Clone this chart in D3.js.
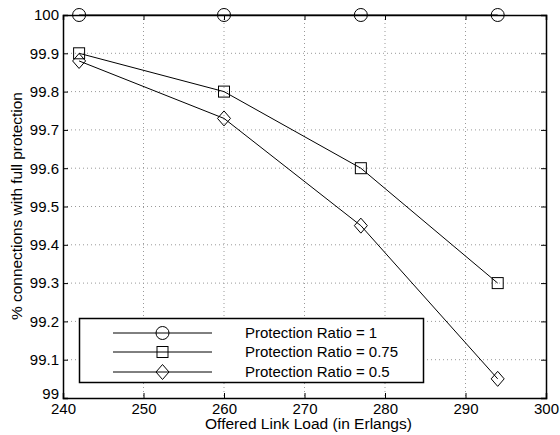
<!DOCTYPE html>
<html><head><meta charset="utf-8">
<script src="https://cdn.jsdelivr.net/npm/d3@7"></script>
<style>body{margin:0;background:#fff}svg{display:block}text{font-family:"Liberation Sans",Arial,Helvetica,sans-serif;fill:#000}</style>
</head><body>
<svg id="c" width="560" height="435"></svg>
<script>
const xLoad = [242, 260, 277, 294];
const ratio1 = [100, 100, 100, 100];
const ratio075 = [99.9, 99.8, 99.6, 99.3];
const ratio05 = [99.88, 99.73, 99.45, 99.05];
const seriesNames = ["Protection Ratio = 1", "Protection Ratio = 0.75", "Protection Ratio = 0.5"];
const xTicks = [240, 250, 260, 270, 280, 290, 300];
const yTicks = [99, 99.1, 99.2, 99.3, 99.4, 99.5, 99.6, 99.7, 99.8, 99.9, 100];

const svg = d3.select("#c");
const L = 63, R = 546, T = 15, B = 398;
const x = d3.scaleLinear().domain([240, 300]).range([L, R]);
const y = d3.scaleLinear().domain([99, 100]).range([B, T]);

// grid
const g = svg.append("g");
g.selectAll(".vg").data(xTicks.slice(1, -1)).enter().append("line")
  .attr("x1", d => x(d)).attr("x2", d => x(d)).attr("y1", T).attr("y2", B)
  .attr("stroke", "#999").attr("stroke-width", 1).attr("stroke-dasharray", "1,3");
g.selectAll(".hg").data(yTicks.slice(1, -1)).enter().append("line")
  .attr("x1", L).attr("x2", R).attr("y1", d => y(d)).attr("y2", d => y(d))
  .attr("stroke", "#999").attr("stroke-width", 1).attr("stroke-dasharray", "1,3");

// axes
const fmtY = d => d3.format("")(+d.toFixed(1));
const ax = svg.append("g").attr("transform", `translate(0,${B})`)
  .call(d3.axisBottom(x).tickValues(xTicks).tickSize(-5).tickPadding(8).tickFormat(d3.format("d")));
const ay = svg.append("g").attr("transform", `translate(${L},0)`)
  .call(d3.axisLeft(y).tickValues(yTicks).tickSize(-5).tickPadding(4).tickFormat(fmtY));
const axT = svg.append("g").attr("transform", `translate(0,${T})`)
  .call(d3.axisTop(x).tickValues(xTicks).tickSize(-5).tickFormat(""));
const ayR = svg.append("g").attr("transform", `translate(${R},0)`)
  .call(d3.axisRight(y).tickValues(yTicks).tickSize(-5).tickFormat(""));
[ax, ay, axT, ayR].forEach(a => {
  a.selectAll("path").attr("stroke", "#000").attr("stroke-width", 1.5);
  a.selectAll("line").attr("stroke", "#000");
  a.selectAll("text").style("font-size", "15px").attr("fill", "#000");
});
ax.selectAll("text").attr("dy", "0.5em");
ay.selectAll("text").filter(d => d === 99).attr("dy", "0.05em");

// lines and markers
const line = d3.line().x(d => x(d[0])).y(d => y(d[1]));
const allSeries = [ratio1, ratio075, ratio05];
const markers = ["circle", "square", "diamond"];
function drawMarker(sel, type, cx, cy) {
  if (type === "circle") sel.append("circle").attr("cx", cx).attr("cy", cy).attr("r", 6.5);
  else if (type === "square") sel.append("rect").attr("x", cx - 5.5).attr("y", cy - 5.5).attr("width", 11).attr("height", 11);
  else sel.append("path").attr("d", `M${cx},${cy - 7.5}L${cx + 6.5},${cy}L${cx},${cy + 7.5}L${cx - 6.5},${cy}Z`);
}
allSeries.forEach((s, i) => {
  const pts = xLoad.map((v, j) => [v, s[j]]);
  svg.append("path").attr("d", line(pts)).attr("fill", "none").attr("stroke", "#000").attr("stroke-width", 1);
  const mg = svg.append("g").attr("fill", "none").attr("stroke", "#000").attr("stroke-width", 1);
  pts.forEach(p => drawMarker(mg, markers[i], x(p[0]), y(p[1])));
});

// legend
const lg = svg.append("g");
lg.append("rect").attr("x", 79.5).attr("y", 318.5).attr("width", 344).attr("height", 64)
  .attr("fill", "#fff").attr("stroke", "#000").attr("stroke-width", 1.5);
const rowsY = [333, 352, 372];
seriesNames.forEach((n, i) => {
  lg.append("line").attr("x1", 113).attr("x2", 212).attr("y1", rowsY[i]).attr("y2", rowsY[i]).attr("stroke", "#000");
  const mg = lg.append("g").attr("fill", "none").attr("stroke", "#000").attr("stroke-width", 1);
  drawMarker(mg, markers[i], 162.5, rowsY[i]);
  lg.append("text").attr("x", 245).attr("y", rowsY[i]).attr("dy", "0.35em").style("font-size", "15px").text(n);
});

// axis titles, sized to match the reference text widths
function fitSize(t, target) {
  t.style("font-size", "100px");
  const w = t.node().getComputedTextLength();
  t.style("font-size", (100 * target / w).toFixed(2) + "px");
}
const xt = svg.append("text").attr("x", 308.5).attr("y", 429).attr("text-anchor", "middle")
  .text("Offered Link Load (in Erlangs)");
fitSize(xt, 207);
const yt = svg.append("text").attr("transform", `translate(22,206) rotate(-90)`).attr("text-anchor", "middle")
  .text("% connections with full protection");
fitSize(yt, 228);
</script>
</body></html>
